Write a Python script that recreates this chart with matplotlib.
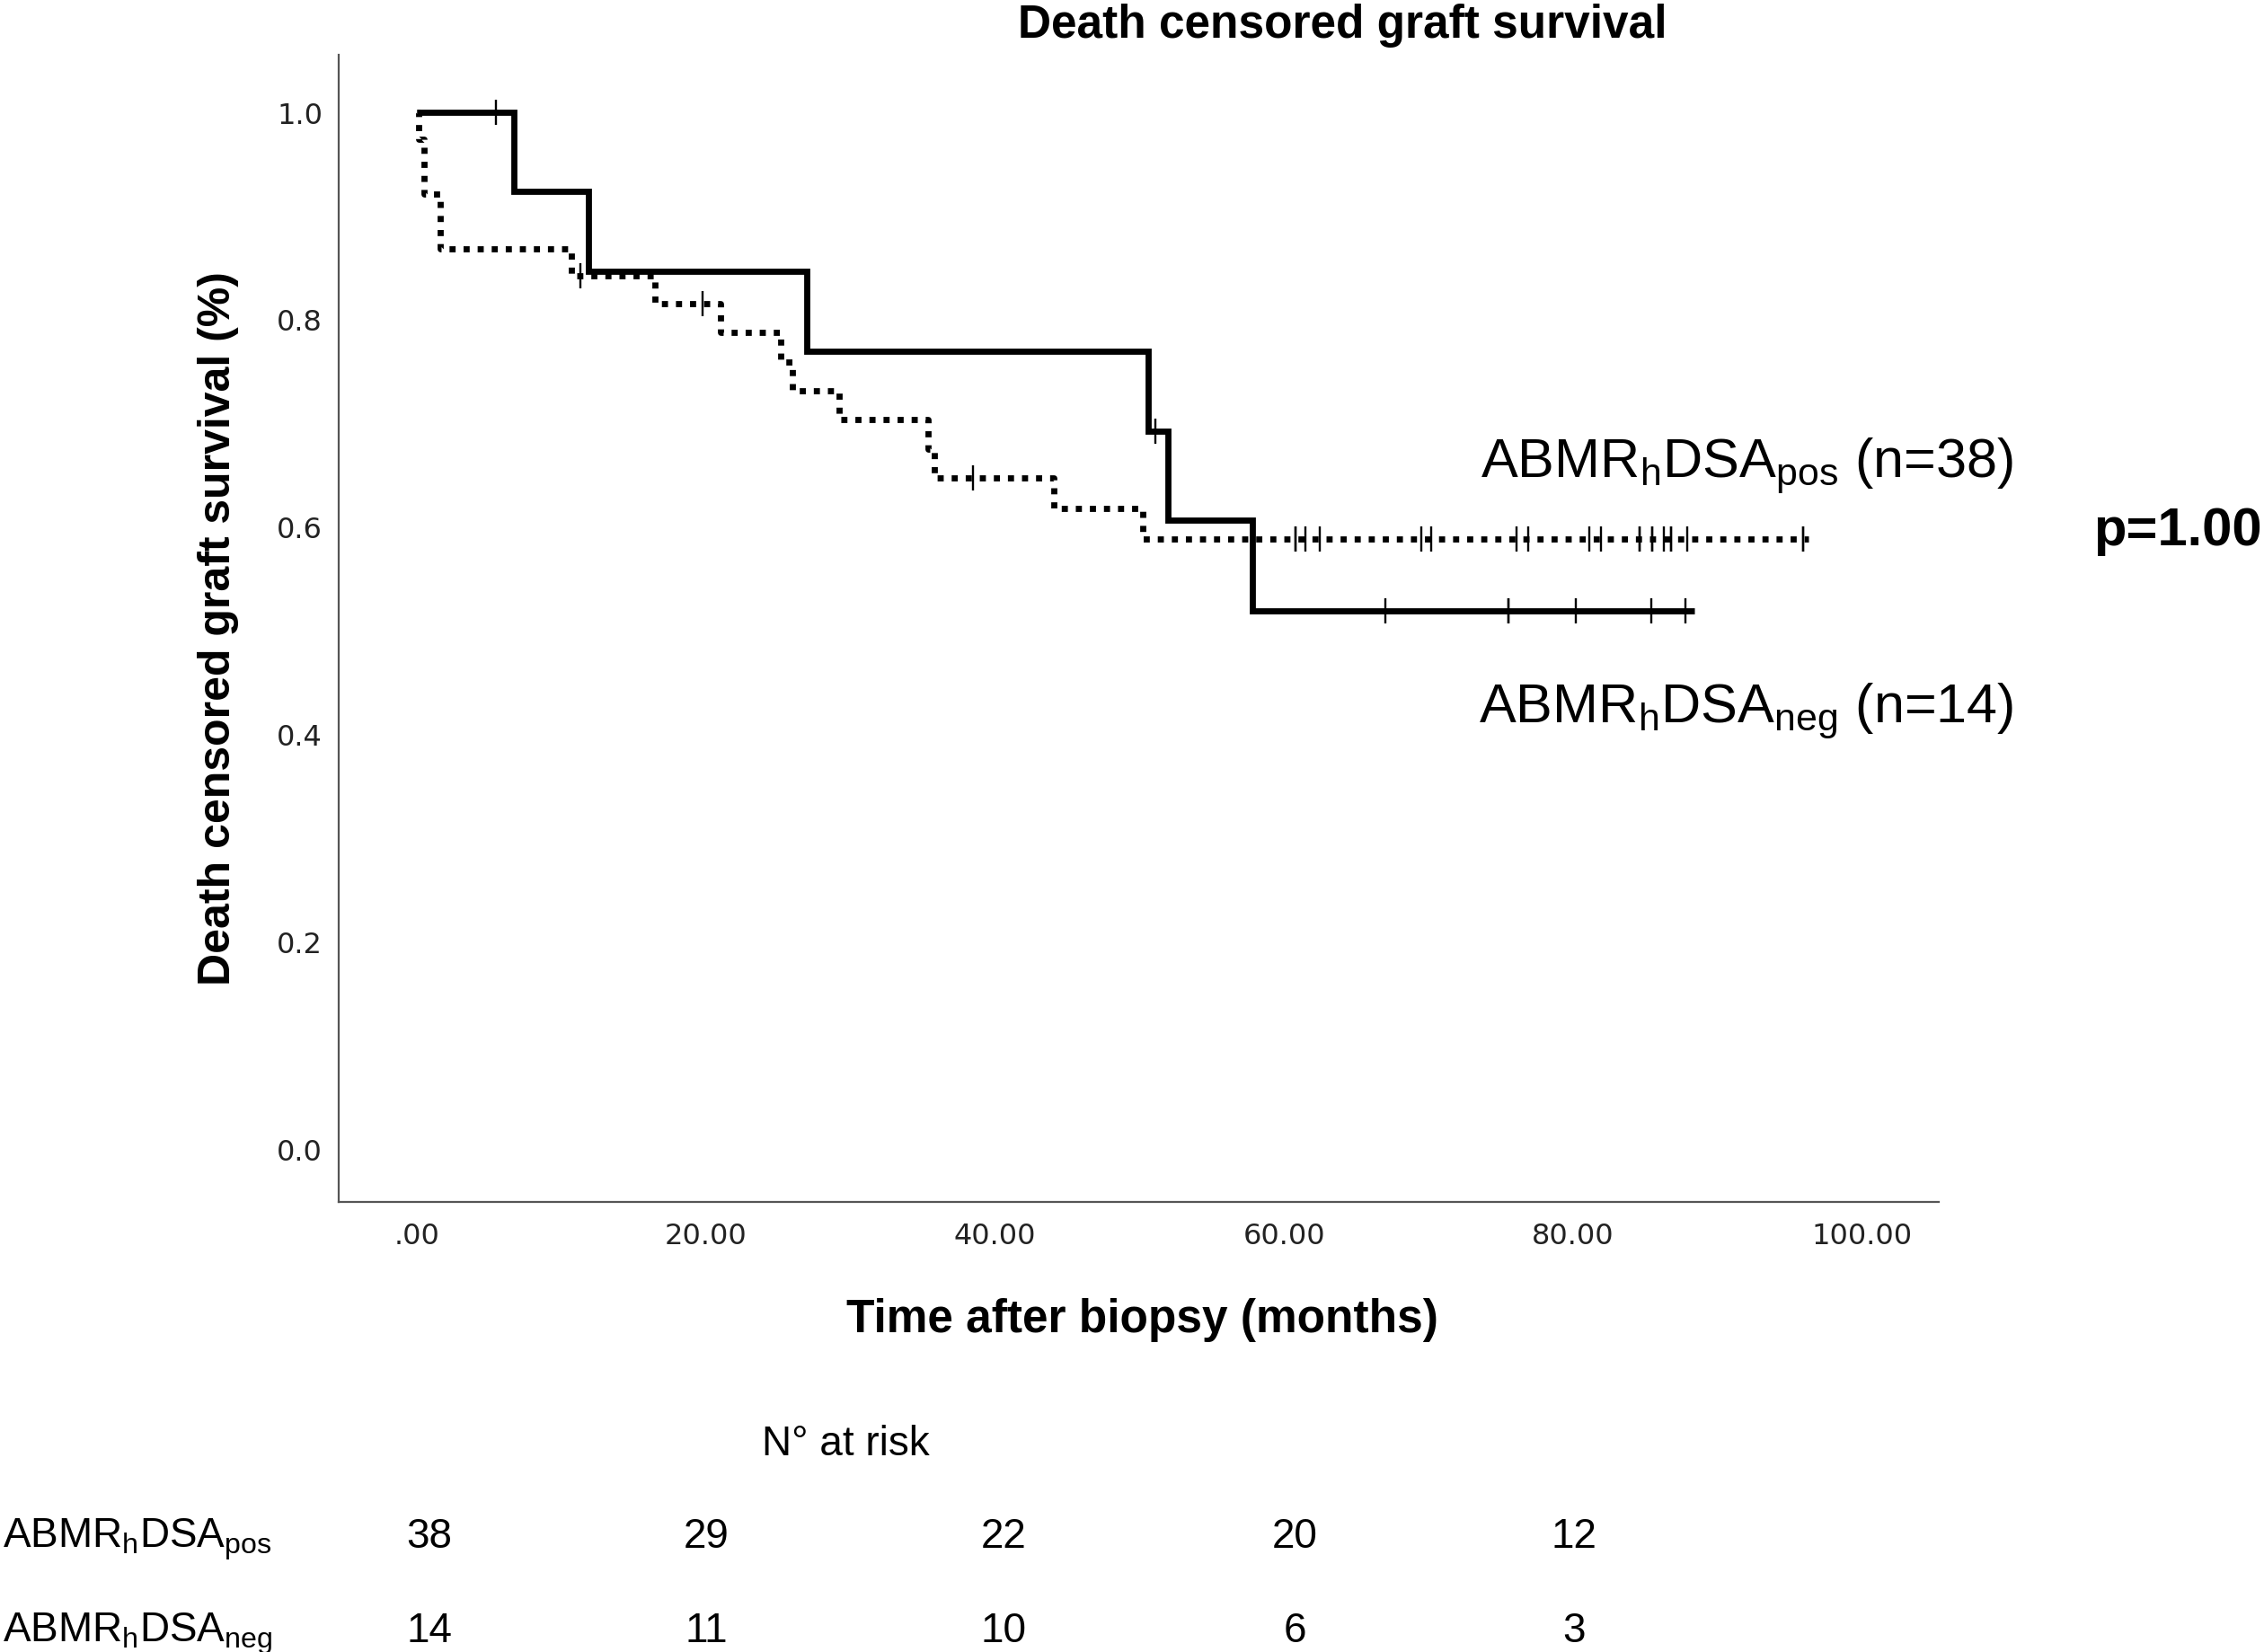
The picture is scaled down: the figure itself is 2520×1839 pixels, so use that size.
import numpy as np
import matplotlib
matplotlib.use('Agg')
import matplotlib.pyplot as plt

# ---------------- data ----------------
# ABMRhDSAneg (n=14) - solid line
neg_step_times = [0.0, 6.7, 11.9, 27.0, 50.6, 52.0, 57.8]
neg_step_surv = [1.0, 0.923, 0.846, 0.769, 0.692, 0.606, 0.519]
neg_end_time = 88.4
neg_censor_times = [5.5, 51.1, 67.0, 75.5, 75.5, 80.2, 85.4, 87.8]

# ABMRhDSApos (n=38) - dotted line
pos_step_times = [0.0, 0.12, 0.5, 1.6, 10.7, 16.5, 21.0, 25.2, 26.0, 29.2,
                  35.4, 35.8, 44.1, 50.2]
pos_step_surv = [1.0, 0.974, 0.921, 0.868, 0.842, 0.815, 0.787, 0.759, 0.731,
                 0.703, 0.675, 0.647, 0.618, 0.588]
pos_end_time = 96.3
pos_censor_times = [11.3, 19.8, 38.5, 60.8, 60.8, 61.5, 62.5, 69.5, 70.2,
                    76.1, 76.9, 81.1, 81.9, 84.6, 84.6, 85.5, 85.5, 86.3,
                    86.8, 86.8, 87.9, 95.9, 95.9]

# numbers at risk
risk_times = [0, 20, 40, 60, 80]
risk_pos = [38, 29, 22, 20, 12]
risk_neg = [14, 11, 10, 6, 3]

xticks = [0, 20, 40, 60, 80, 100]
xtick_labels = ['.00', '20.00', '40.00', '60.00', '80.00', '100.00']
yticks = [0.0, 0.2, 0.4, 0.6, 0.8, 1.0]
ytick_labels = ['0.0', '0.2', '0.4', '0.6', '0.8', '1.0']

title = 'Death censored graft survival'
xlabel = 'Time after biopsy (months)'
ylabel = 'Death censored graft survival (%)'
label_pos = r'ABMR$_\mathregular{h}$DSA$_\mathregular{pos}$ (n=38)'
label_neg = r'ABMR$_\mathregular{h}$DSA$_\mathregular{neg}$ (n=14)'
row_pos = r'ABMR$_\mathregular{h}$DSA$_\mathregular{pos}$'
row_neg = r'ABMR$_\mathregular{h}$DSA$_\mathregular{neg}$'
pval_text = 'p=1.00'
risk_title = 'N° at risk'

# ---------------- figure ----------------
W, H = 2520, 1840
DPI = 100
fig = plt.figure(figsize=(W / DPI, H / DPI), dpi=DPI)


def fx(px):
    return px / W


def fy(py):
    return 1 - py / H


ax_left, ax_right, ax_top, ax_bottom = 377, 2158, 62, 1339
ax = fig.add_axes([fx(ax_left), fy(ax_bottom),
                   (ax_right - ax_left) / W, (ax_bottom - ax_top) / H])
ax.set_xlim(-5.4, 105.3)
ax.set_ylim(-0.051, 1.055)


def km_curve(times, surv, end):
    x = list(times) + [end]
    y = list(surv) + [surv[-1]]
    return x, y


def censor_y(times, surv, ct):
    idx = np.searchsorted(np.asarray(times), np.asarray(ct), side='right') - 1
    return np.asarray(surv)[idx]


lw = 4.9
# dotted curve (pos)
xp, yp = km_curve(pos_step_times, pos_step_surv, pos_end_time)
ax.step(xp, yp, where='post', color='black', lw=lw,
        linestyle=(0, (1.0, 1.3)), dash_capstyle='butt', solid_joinstyle='miter')
ax.plot(pos_censor_times, censor_y(pos_step_times, pos_step_surv, pos_censor_times),
        linestyle='none', marker='|', markersize=20, markeredgewidth=1.7, color='black')

# solid curve (neg)
xn, yn = km_curve(neg_step_times, neg_step_surv, neg_end_time)
ax.step(xn, yn, where='post', color='black', lw=lw, solid_capstyle='butt',
        solid_joinstyle='miter')
ax.plot(neg_censor_times, censor_y(neg_step_times, neg_step_surv, neg_censor_times),
        linestyle='none', marker='|', markersize=20, markeredgewidth=1.7, color='black')

# axes styling
for s in ['top', 'right']:
    ax.spines[s].set_visible(False)
for s in ['left', 'bottom']:
    ax.spines[s].set_color('#555555')
    ax.spines[s].set_linewidth(1.6)

ax.set_xticks(xticks)
ax.set_xticklabels(xtick_labels)
ax.set_yticks(yticks)
ax.set_yticklabels(ytick_labels)
ax.tick_params(axis='x', length=0, pad=16, labelsize=23, labelcolor='#222222')
ax.tick_params(axis='y', length=0, pad=13, labelsize=23, labelcolor='#222222')
for lab in ax.get_xticklabels() + ax.get_yticklabels():
    lab.set_fontfamily('DejaVu Sans')

bold = dict(family='Liberation Sans', weight='bold', color='black')
reg = dict(family='Liberation Sans', color='black')

fig.text(fx(1494), fy(42), title, ha='center', va='baseline', fontsize=37, **bold)
fig.text(fx(1271), fy(1483), xlabel, ha='center', va='baseline', fontsize=37, **bold)
fig.text(fx(243), fy(700), ylabel, ha='center', va='center', rotation=90,
         fontsize=36, **bold)

# curve labels
fig.text(fx(1648), fy(531), label_pos, ha='left', va='baseline', fontsize=44, **reg)
fig.text(fx(1646), fy(804), label_neg, ha='left', va='baseline', fontsize=44, **reg)
fig.text(fx(2518), fy(607), pval_text, ha='right', va='baseline', fontsize=43, **bold)

# numbers at risk table (column centres in pixels, one per entry of risk_times)
risk_col_px = [478, 786, 1117, 1441, 1752]
fig.text(fx(848), fy(1620), risk_title, ha='left', va='baseline', fontsize=33, **reg)
fig.text(fx(3), fy(1723), row_pos, ha='left', va='baseline', fontsize=33, **reg)
fig.text(fx(3), fy(1828), row_neg, ha='left', va='baseline', fontsize=33, **reg)

for px, n in zip(risk_col_px, risk_pos):
    fig.text(fx(px), fy(1723), str(n), ha='center', va='baseline', fontsize=33, **reg)
for px, n in zip(risk_col_px, risk_neg):
    fig.text(fx(px), fy(1828), str(n), ha='center', va='baseline', fontsize=33, **reg)

fig.savefig('out.png', dpi=DPI, facecolor='white')
